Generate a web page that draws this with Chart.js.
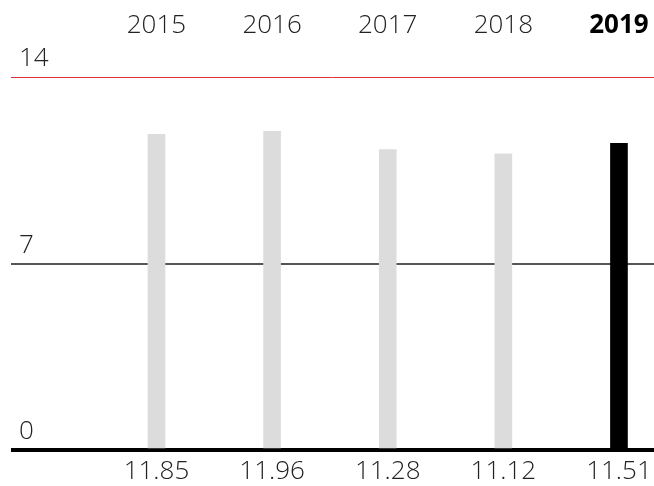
<!DOCTYPE html>
<html>
<head>
<meta charset="utf-8">
<script src="https://cdn.jsdelivr.net/npm/chart.js@4/dist/chart.umd.min.js"></script>
<style>
html,body{margin:0;padding:0;background:#fff;}
#wrap{width:654px;height:486px;position:relative;}
</style>
</head>
<body>
<div id="wrap"><canvas id="c"></canvas></div>
<script>
const years = ['2015', '2016', '2017', '2018', '2019'];
const values = [11.85, 11.96, 11.28, 11.12, 11.51];
const valueLabels = ['11.85', '11.96', '11.28', '11.12', '11.51'];
const yTicks = [0, 7, 14];
const highlightIndex = 4;

const FONT = '"Open Sans", "Liberation Sans", sans-serif';
const positions = years.map((_, i) => i);

function gridColor(v) {
  if (v === 14) return '#e0303c';
  if (v === 0) return '#000000';
  return '#555555';
}
function gridWidth(v) {
  if (v === 0) return 4;
  if (v === 14) return 1;
  return 2;
}

new Chart(document.getElementById('c'), {
  type: 'bar',
  data: {
    datasets: [{
      data: positions.map((p, i) => ({ x: p, y: values[i] })),
      backgroundColor: values.map((_, i) => i === highlightIndex ? '#000000' : '#dcdcdc'),
      barThickness: 17,
      xAxisID: 'x',
      yAxisID: 'y'
    }]
  },
  options: {
    responsive: true,
    maintainAspectRatio: false,
    animation: false,
    layout: { padding: { left: 11, right: 0, top: 0, bottom: 0 } },
    plugins: { legend: { display: false }, tooltip: { enabled: false } },
    scales: {
      x: {
        type: 'linear',
        position: 'bottom',
        offset: false,
        min: -1.258,
        max: 4.303,
        grid: { display: false, drawTicks: false, offset: false },
        border: { display: false },
        afterBuildTicks: s => { s.ticks = positions.map(v => ({ value: v })); },
        afterFit: s => { s.height = 36; s.paddingLeft = 0; s.paddingRight = 0; },
        ticks: {
          padding: 6,
          autoSkip: false,
          maxRotation: 0,
          color: '#222',
          font: { family: FONT, size: 26, weight: 300 },
          callback: (v) => valueLabels[Math.round(v)]
        }
      },
      x2: {
        type: 'linear',
        position: 'top',
        offset: false,
        min: -1.258,
        max: 4.303,
        grid: { display: false, drawTicks: false, offset: false },
        border: { display: false },
        afterBuildTicks: s => { s.ticks = positions.map(v => ({ value: v })); },
        afterFit: s => { s.height = 77; s.paddingLeft = 0; s.paddingRight = 0; },
        ticks: {
          padding: 36,
          autoSkip: false,
          maxRotation: 0,
          color: ctx => ctx.index === highlightIndex ? '#000' : '#222',
          font: ctx => ({ family: FONT, size: 26, weight: ctx.index === highlightIndex ? 700 : 300 }),
          callback: (v) => years[Math.round(v)]
        }
      },
      y: {
        type: 'linear',
        position: 'left',
        min: 0,
        max: 14,
        afterBuildTicks: s => { s.ticks = yTicks.map(v => ({ value: v })); },
        afterFit: s => { s.width = 0; s.paddingTop = 0; s.paddingBottom = 0; },
        border: { display: false },
        grid: {
          drawTicks: false,
          color: yTicks.map(gridColor),
          lineWidth: yTicks.map(gridWidth)
        },
        ticks: {
          mirror: true,
          padding: 8,
          labelOffset: -18,
          color: '#222',
          font: { family: FONT, size: 26, weight: 300 }
        }
      }
    }
  }
});
</script>
</body>
</html>
